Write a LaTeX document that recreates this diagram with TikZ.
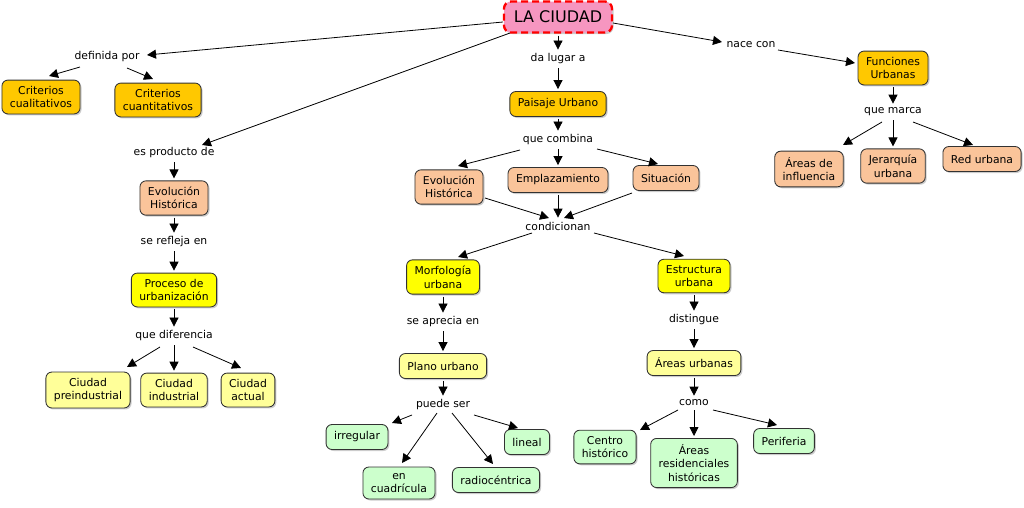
\documentclass[tikz,border=0pt]{standalone}
\usepackage{fontspec}
\setmainfont{DejaVu Sans}
\usetikzlibrary{arrows.meta,calc,shadows}
\definecolor{gold}{RGB}{255,200,0}
\definecolor{peach}{RGB}{250,196,154}
\definecolor{yel}{RGB}{255,255,0}
\definecolor{lyel}{RGB}{255,255,153}
\definecolor{lgreen}{RGB}{204,255,204}
\definecolor{pinkc}{RGB}{246,150,192}
\definecolor{bordergray}{RGB}{50,50,50}
\begin{document}
\begin{tikzpicture}[x=1pt,y=-1pt,
  font=\fontsize{10.8}{13.5}\selectfont,
  box/.style={draw=bordergray, line width=0.85pt, rounded corners=6pt, align=center,
    inner xsep=8pt, inner ysep=6pt, minimum height=25pt, text=black,
    drop shadow={shadow xshift=1.5pt,shadow yshift=-1.5pt,opacity=0.2,fill=black}},
  lbl/.style={inner sep=2pt, text=black},
  arr/.style={-{Triangle[length=9pt,width=9pt]}, line width=0.8pt},
  varr/.style={arr, shorten <=2pt, shorten >=2pt}]
\useasboundingbox (0,0) rectangle (1024,507);
% top
\node[box, fill=pinkc, draw=red, dashed, dash pattern=on 7pt off 4pt, line width=2.3pt,
  rounded corners=7pt, minimum width=108pt, minimum height=31pt, inner sep=2pt] (ciudad) at (558,17)
  {\fontsize{16}{19}\selectfont LA CIUDAD};
% left branch
\node[lbl] (definida) at (107,57) {definida por};
\node[box, fill=gold] (cual) at (41,97) {Criterios\\cualitativos};
\node[box, fill=gold] (cuant) at (158,100) {Criterios\\cuantitativos};
\node[lbl] (producto) at (174,153) {es producto de};
\node[box, fill=peach] (evol1) at (174,198) {Evolución\\Histórica};
\node[lbl] (refleja) at (174,242) {se refleja en};
\node[box, fill=yel] (proceso) at (174,290) {Proceso de\\urbanización};
\node[lbl] (diferencia) at (174,336) {que diferencia};
\node[box, fill=lyel] (preind) at (88,390) {Ciudad\\preindustrial};
\node[box, fill=lyel] (industrial) at (174,390) {Ciudad\\industrial};
\node[box, fill=lyel] (actual) at (248,390) {Ciudad\\actual};
% middle branch
\node[lbl] (dalugar) at (558,59) {da lugar a};
\node[box, fill=gold] (paisaje) at (558,104) {Paisaje Urbano};
\node[lbl] (combina) at (558,140) {que combina};
\node[box, fill=peach] (evol2) at (449,187) {Evolución\\Histórica};
\node[box, fill=peach] (empl) at (558,180) {Emplazamiento};
\node[box, fill=peach] (sit) at (666,178) {Situación};
\node[lbl] (cond) at (558,226) {condicionan};
\node[box, fill=yel] (morfo) at (443,277) {Morfología\\urbana};
\node[box, fill=yel] (estr) at (694,276) {Estructura\\urbana};
\node[lbl] (aprecia) at (443,322) {se aprecia en};
\node[lbl] (distingue) at (694,320) {distingue};
\node[box, fill=lyel] (plano) at (443,366) {Plano urbano};
\node[box, fill=lyel] (areasurb) at (694,363) {Áreas urbanas};
\node[lbl] (puede) at (443,405) {puede ser};
\node[box, fill=lgreen] (irr) at (357,437) {irregular};
\node[box, fill=lgreen] (lineal) at (527,442) {lineal};
\node[box, fill=lgreen, minimum height=32pt] (cuad) at (399,483) {en\\cuadrícula};
\node[box, fill=lgreen] (radio) at (496,480) {radiocéntrica};
\node[lbl] (como) at (694,403) {como};
\node[box, fill=lgreen] (centro) at (605,447) {Centro\\histórico};
\node[box, fill=lgreen] (resid) at (694,463) {Áreas\\residenciales\\históricas};
\node[box, fill=lgreen] (peri) at (784,441) {Periferia};
% right branch
\node[lbl] (nace) at (751,45) {nace con};
\node[box, fill=gold] (fun) at (893,68) {Funciones\\Urbanas};
\node[lbl] (marca) at (893,112) {que marca};
\node[box, fill=peach] (ainf) at (809,169) {Áreas de\\influencia};
\node[box, fill=peach] (jer) at (893,166) {Jerarquía\\urbana};
\node[box, fill=peach] (red) at (982,159) {Red urbana};
% connectors: left
\draw[arr] ($(ciudad)+(-55,5)$) -- ($(definida)+(40,-2)$);
\draw[arr] ($(definida)+(-27,10)$) -- ($(cual)+(8,-21)$);
\draw[arr] ($(definida)+(20,11)$) -- ($(cuant)+(-5,-21)$);
\draw[arr] ($(ciudad)+(-48,16)$) -- ($(producto)+(28,-8)$);
\draw[varr] (producto) -- (evol1);
\draw[varr] (evol1) -- (refleja);
\draw[varr] (refleja) -- (proceso);
\draw[varr] (proceso) -- (diferencia);
\draw[arr] ($(diferencia)+(-14,11)$) -- ($(preind)+(39,-23)$);
\draw[varr] (diferencia) -- (industrial);
\draw[arr] ($(diferencia)+(19,11)$) -- ($(actual)+(-7,-22)$);
% middle
\draw[varr] (ciudad) -- (dalugar);
\draw[varr] (dalugar) -- (paisaje);
\draw[varr] (paisaje) -- (combina);
\draw[arr] ($(combina)+(-38,10)$) -- ($(evol2)+(9,-21)$);
\draw[varr] (combina) -- (empl);
\draw[arr] ($(combina)+(39,9)$) -- ($(sit)+(-8,-14)$);
\draw[arr] ($(evol2)+(36,11)$) -- ($(cond)+(-9,-8)$);
\draw[varr] (empl) -- (cond);
\draw[arr] ($(sit)+(-34,15)$) -- ($(cond)+(6,-8)$);
\draw[arr] ($(cond)+(-26,7)$) -- ($(morfo)+(15,-20)$);
\draw[arr] ($(cond)+(36,7)$) -- ($(estr)+(-10,-20)$);
\draw[varr] (morfo) -- (aprecia);
\draw[varr] (aprecia) -- (plano);
\draw[varr] (plano) -- (puede);
\draw[arr] ($(puede)+(-31,10)$) -- ($(irr)+(35,-14)$);
\draw[arr] ($(puede)+(-6,8)$) -- ($(cuad)+(3,-20)$);
\draw[arr] ($(puede)+(9,8)$) -- ($(radio)+(-3,-16)$);
\draw[arr] ($(puede)+(31,10)$) -- ($(lineal)+(-9,-14)$);
\draw[varr] (estr) -- (distingue);
\draw[varr] (distingue) -- (areasurb);
\draw[varr] (areasurb) -- (como);
\draw[arr] ($(como)+(-16,7)$) -- ($(centro)+(35,-17)$);
\draw[varr] (como) -- (resid);
\draw[arr] ($(como)+(19,7)$) -- ($(peri)+(-7,-16)$);
% right
\draw[arr] ($(ciudad)+(55,6)$) -- ($(nace)+(-29,-3)$);
\draw[arr] ($(nace)+(27,5)$) -- ($(fun)+(-38,-5)$);
\draw[varr] (fun) -- (marca);
\draw[arr] ($(marca)+(-11,10)$) -- ($(ainf)+(34,-24)$);
\draw[varr] (marca) -- (jer);
\draw[arr] ($(marca)+(20,10)$) -- ($(red)+(-9,-14)$);
\end{tikzpicture}
\end{document}
